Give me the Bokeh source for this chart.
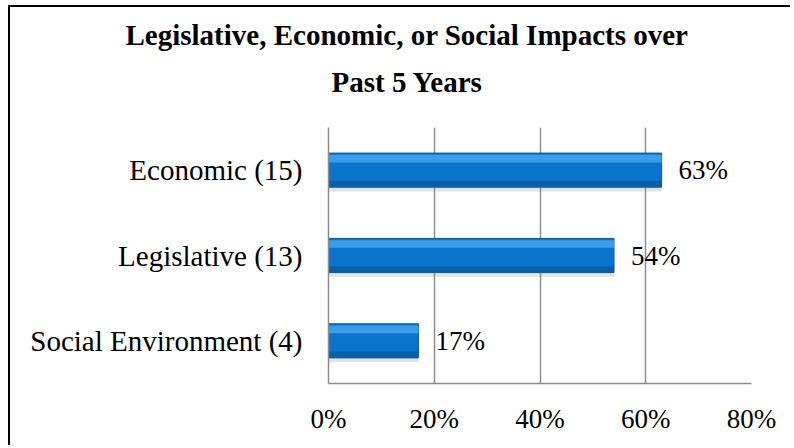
from bokeh.plotting import figure
from bokeh.models import (ColumnDataSource, FactorRange, Range1d, FixedTicker,
                          PrintfTickFormatter, Title)
from bokeh.transform import dodge
from bokeh.embed import file_html
from bokeh.resources import INLINE

# ---- data ----
categories = ["Economic (15)", "Legislative (13)", "Social Environment (4)"]
percent_values = [63, 54, 17]
x_ticks = [0, 20, 40, 60, 80]
title_lines = ["Legislative, Economic, or Social Impacts over", "Past 5 Years"]

FONT = "Liberation Serif"
GRID = "#8c8c8c"

src = ColumnDataSource(dict(
    cat=categories,
    val=percent_values,
    zero=[0] * len(categories),
    lab=[f"{v}%" for v in percent_values],
))

p = figure(
    width=780, height=438,
    frame_width=423, frame_height=256,
    min_border_left=318, min_border_right=39,
    min_border_top=120, min_border_bottom=62,
    y_range=FactorRange(factors=list(reversed(categories)), range_padding=0),
    x_range=Range1d(0, 80),
    output_backend="svg", toolbar_location=None,
)
p.styles = {"border-left": "2px solid black", "border-top": "2px solid black",
            "margin-left": "8px", "margin-top": "5px"}
p.outline_line_color = None
p.background_fill_color = "white"
p.border_fill_color = "white"

# shadow
p.hbar(y=dodge("cat", -0.05, range=p.y_range), left="zero", right="val", height=0.4,
       source=src, fill_color="#7f7f7f", fill_alpha=0.22, line_color=None)
# main bar
p.hbar(y="cat", left="zero", right="val", height=0.4, source=src,
       fill_color="#0a74cc", line_color="#0b5797", line_width=1)
# top highlight
p.hbar(y=dodge("cat", 0.135, range=p.y_range), left="zero", right="val", height=0.09,
       source=src, fill_color="#3a9de8", line_color=None)
# bottom dark band
p.hbar(y=dodge("cat", -0.16, range=p.y_range), left="zero", right="val", height=0.07,
       source=src, fill_color="#0a5ea6", line_color=None)

# value labels
p.text(x="val", y="cat", text="lab", source=src, x_offset=17,
       text_font=FONT, text_font_size="27px", text_color="black",
       text_baseline="middle", text_align="left")

# axes / grid
p.xaxis.ticker = FixedTicker(ticks=x_ticks)
p.xaxis.formatter = PrintfTickFormatter(format="%d%%")
p.xgrid.ticker = FixedTicker(ticks=x_ticks)
p.xgrid.grid_line_color = GRID
p.xgrid.grid_line_width = 1.5
p.ygrid.grid_line_color = None

for ax in (p.xaxis, p.yaxis):
    ax.axis_line_color = GRID
    ax.axis_line_width = 1.5
    ax.major_tick_line_color = None
    ax.minor_tick_line_color = None
    ax.major_label_text_font = FONT
    ax.major_label_text_color = "black"
p.xaxis.major_label_text_font_size = "27px"
p.yaxis.major_label_text_font_size = "29px"
p.xaxis.major_label_standoff = 14
p.yaxis.major_label_standoff = 20

# title (two lines, centred over the chart); later-added titles stack farther up
title_offsets = [-203, 3]     # left offsets relative to frame, per line
title_standoffs = [-34, 60]
for line, off, so in reversed(list(zip(title_lines, title_offsets, title_standoffs))):
    p.add_layout(Title(text=line, align="left", offset=off, standoff=so,
                       text_font=FONT, text_font_size="29px", text_font_style="bold",
                       text_color="black"), "above")

open("out.html", "w").write(file_html(p, INLINE))
